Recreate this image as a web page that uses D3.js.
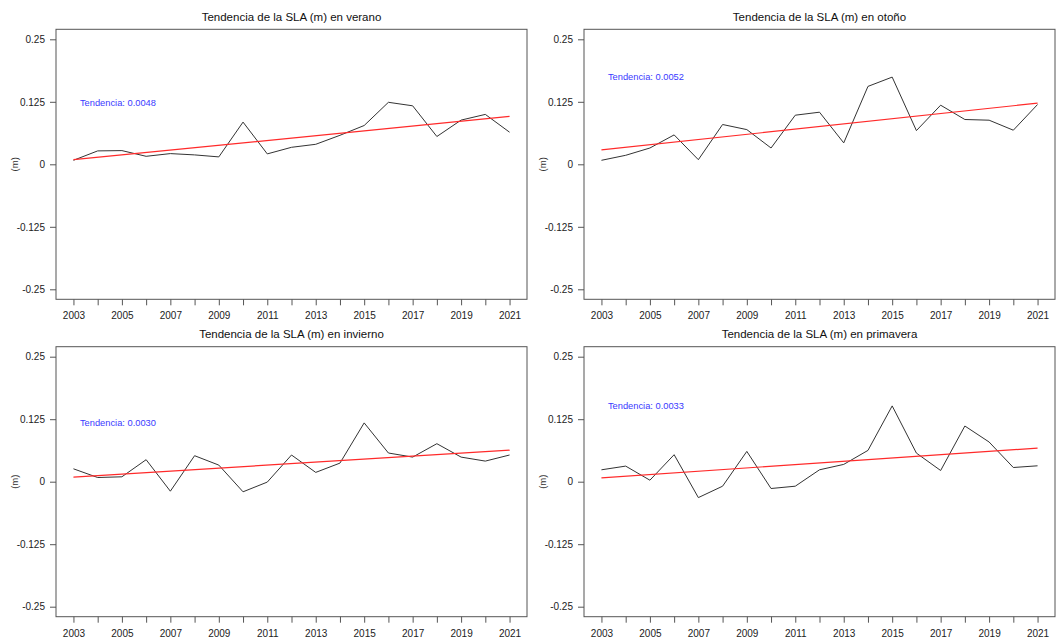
<!DOCTYPE html>
<html>
<head>
<meta charset="utf-8">
<script src="https://cdn.jsdelivr.net/npm/d3@7"></script>
<style>
  html, body { margin: 0; padding: 0; background: #fff; }
  svg { display: block; font-family: "Liberation Sans", Arial, sans-serif; }
</style>
</head>
<body>
<svg id="chart" width="1056" height="643"></svg>
<script>
// Seasonal SLA anomalies (m), 2003-2021
const years = d3.range(2003, 2022);

const verano    = [0.008, 0.0268, 0.0274, 0.016, 0.0214, 0.0188, 0.0148, 0.0844, 0.0208, 0.034,
                   0.040, 0.058, 0.0776, 0.124, 0.117, 0.0556, 0.0884, 0.0998, 0.0642];
const otono     = [0.008, 0.018, 0.0326, 0.0588, 0.0092, 0.0796, 0.0694, 0.0326, 0.0982, 0.1042,
                   0.0428, 0.1558, 0.1744, 0.0674, 0.1182, 0.0896, 0.0882, 0.0682, 0.1196];
const invierno  = [0.0258, 0.0084, 0.0098, 0.044, -0.019, 0.052, 0.0332, -0.0202, -0.0008, 0.0534,
                   0.0186, 0.0372, 0.1176, 0.0574, 0.0492, 0.076, 0.0492, 0.0412, 0.0534];
const primavera = [0.0238, 0.0312, 0.003, 0.054, -0.0318, -0.009, 0.0606, -0.0136, -0.009, 0.0238,
                   0.0346, 0.0626, 0.1516, 0.0572, 0.0224, 0.1114, 0.0794, 0.0284, 0.0318];

// Slope of the linear trend for each season (m / year)
const trends = [0.0048, 0.0052, 0.0030, 0.0033];

const titles = [
  "Tendencia de la SLA (m) en verano",
  "Tendencia de la SLA (m) en otoño",
  "Tendencia de la SLA (m) en invierno",
  "Tendencia de la SLA (m) en primavera"
];

const xTickLabels = [2003, 2005, 2007, 2009, 2011, 2013, 2015, 2017, 2019, 2021];
const yTicks = [-0.25, -0.125, 0, 0.125, 0.25];
const yTickLabels = ["-0.25", "-0.125", "0", "0.125", "0.25"];

const series = [verano, otono, invierno, primavera];

// Panel layout (2 x 2)
const colOffset = [0, 528];
const rowOffset = [0, 317.4];
const plot = { left: 56, right: 527, top: 29.3, bottom: 299.3 };

const svg = d3.select("#chart");

const x = d3.scaleLinear()
  .domain([2003 - 0.72, 2021 + 0.72])
  .range([plot.left, plot.right]);
const y = d3.scaleLinear()
  .domain([-0.27, 0.27])
  .range([plot.bottom, plot.top]);

const labelSet = new Set(xTickLabels);
const yLabelOf = new Map(yTicks.map((t, i) => [t, yTickLabels[i]]));

series.forEach((vals, i) => {
  const g = svg.append("g")
    .attr("transform", `translate(${colOffset[i % 2]},${rowOffset[Math.floor(i / 2)]})`);

  // Title
  g.append("text")
    .attr("x", (plot.left + plot.right) / 2)
    .attr("y", 20.8)
    .attr("text-anchor", "middle")
    .attr("font-size", "11.5px")
    .attr("fill", "#111")
    .text(titles[i]);

  // Y axis
  const yAxis = g.append("g")
    .attr("transform", `translate(${plot.left},0)`)
    .call(d3.axisLeft(y).tickValues(yTicks).tickSize(6).tickPadding(5)
      .tickFormat(d => yLabelOf.get(d)));
  yAxis.select(".domain").remove();
  yAxis.selectAll("line").attr("stroke", "#555");
  yAxis.selectAll("text").attr("font-size", "10px").attr("fill", "#222")
    .attr("font-family", "Liberation Sans, Arial, sans-serif");

  // X axis
  const xAxis = g.append("g")
    .attr("transform", `translate(0,${plot.bottom})`)
    .call(d3.axisBottom(x).tickValues(years).tickSize(6).tickPadding(7)
      .tickFormat(d => labelSet.has(d) ? String(d) : ""));
  xAxis.select(".domain").remove();
  xAxis.selectAll("line").attr("stroke", "#555");
  xAxis.selectAll("text").attr("font-size", "10px").attr("fill", "#222")
    .attr("font-family", "Liberation Sans, Arial, sans-serif");

  // Y axis title
  g.append("text")
    .attr("transform", `translate(18,${(plot.top + plot.bottom) / 2}) rotate(-90)`)
    .attr("text-anchor", "middle")
    .attr("font-size", "9.5px")
    .attr("fill", "#333")
    .text("(m)");

  // Data line
  const line = d3.line()
    .x((d, k) => x(years[k]))
    .y(d => y(d));
  g.append("path")
    .datum(vals)
    .attr("fill", "none")
    .attr("stroke", "#333")
    .attr("stroke-width", 1)
    .attr("d", line);

  // Trend line: given slope, passing through the mean point
  const mx = d3.mean(years);
  const my = d3.mean(vals);
  const slope = trends[i];
  const trendPts = [years[0], years[years.length - 1]].map(t => [t, my + slope * (t - mx)]);
  g.append("path")
    .datum(trendPts)
    .attr("fill", "none")
    .attr("stroke", "#ff2a2a")
    .attr("stroke-width", 1.2)
    .attr("d", d3.line().x(d => x(d[0])).y(d => y(d[1])));

  // Trend annotation, placed at the series maximum
  g.append("text")
    .attr("x", x(years[0]) + 6.5)
    .attr("y", y(d3.max(vals)))
    .attr("dy", "0.35em")
    .attr("font-size", "9.3px")
    .attr("fill", "#3a3aff")
    .text("Tendencia: " + trends[i].toFixed(4));

  // Plot box
  g.append("rect")
    .attr("x", plot.left)
    .attr("y", plot.top)
    .attr("width", plot.right - plot.left)
    .attr("height", plot.bottom - plot.top)
    .attr("fill", "none")
    .attr("stroke", "#555")
    .attr("stroke-width", 1);
});
</script>
</body>
</html>
